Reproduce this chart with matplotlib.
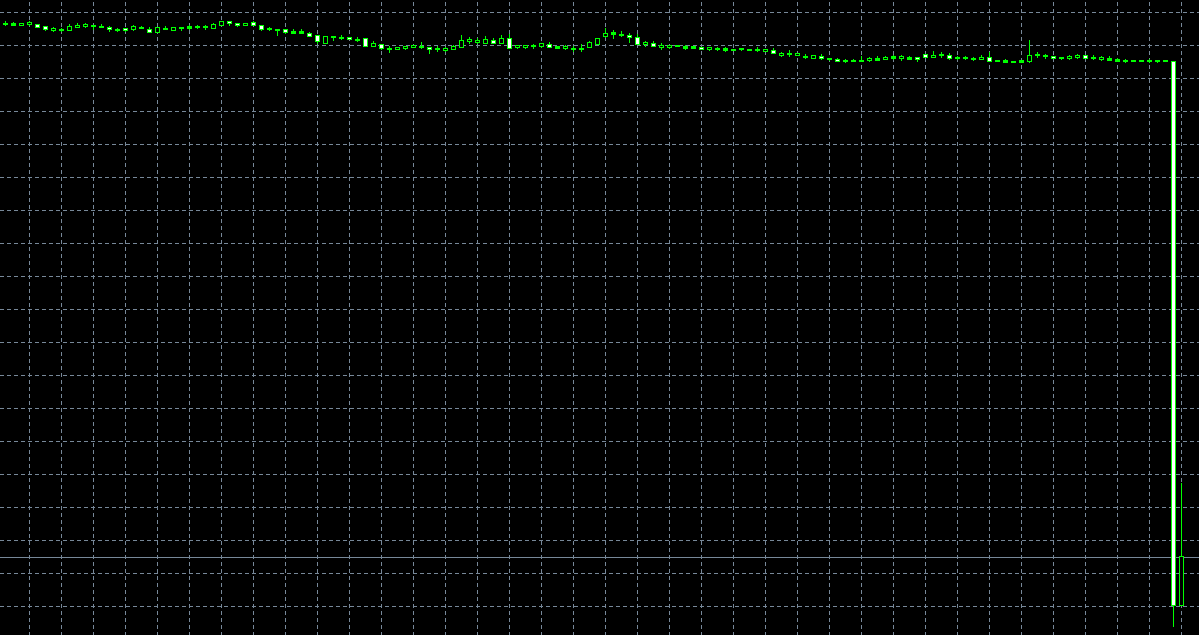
"""MT4-style candlestick chart, green on black, no price scale shown."""

import matplotlib

matplotlib.use("Agg")
import matplotlib.pyplot as plt
import numpy as np

# OHLC in chart points (the screenshot has no price labels, so units are arbitrary)
opens = [
    1834, 1828, 1828, 1830, 1833, 1827, 1812, 1816, 1813, 1823,
    1824, 1825, 1825, 1824, 1816, 1821, 1817, 1822, 1818, 1807,
    1817, 1813, 1818, 1819, 1824, 1823, 1819, 1828, 1841, 1836,
    1828, 1837, 1830, 1818, 1818, 1818, 1804, 1804, 1806, 1798,
    1775, 1797, 1792, 1794, 1786, 1790, 1765, 1773, 1759, 1755,
    1759, 1761, 1764, 1763, 1757, 1753, 1757, 1762, 1780, 1777,
    1774, 1785, 1774, 1791, 1761, 1762, 1766, 1765, 1773, 1759,
    1758, 1759, 1759, 1762, 1770, 1795, 1801, 1799, 1800, 1794,
    1771, 1776, 1762, 1761, 1764, 1759, 1759, 1764, 1755, 1755,
    1754, 1752, 1757, 1753, 1755, 1749, 1754, 1738, 1743, 1739,
    1734, 1730, 1737, 1727, 1727, 1719, 1719, 1719, 1722, 1723,
    1726, 1729, 1728, 1727, 1732, 1743, 1732, 1739, 1740, 1731,
    1731, 1727, 1725, 1733, 1720, 1717, 1717, 1717, 1719, 1740,
    1736, 1737, 1732, 1728, 1731, 1738, 1731, 1726, 1723, 1720,
    1721, 1720, 1720, 1721, 1722, 1722, 1722, 89,
]
highs = [
    1841, 1839, 1836, 1840, 1833, 1827, 1822, 1821, 1833, 1834,
    1834, 1828, 1831, 1827, 1821, 1821, 1828, 1827, 1823, 1824,
    1827, 1824, 1823, 1828, 1828, 1828, 1834, 1842, 1841, 1836,
    1836, 1842, 1830, 1824, 1818, 1818, 1818, 1816, 1809, 1798,
    1797, 1797, 1798, 1794, 1792, 1790, 1781, 1773, 1767, 1763,
    1767, 1768, 1779, 1763, 1765, 1764, 1768, 1800, 1792, 1789,
    1797, 1789, 1800, 1801, 1770, 1769, 1772, 1776, 1779, 1765,
    1768, 1767, 1773, 1781, 1791, 1820, 1814, 1811, 1806, 1801,
    1782, 1781, 1774, 1769, 1770, 1768, 1765, 1764, 1762, 1764,
    1764, 1758, 1761, 1758, 1764, 1756, 1760, 1749, 1755, 1746,
    1741, 1738, 1743, 1730, 1730, 1728, 1728, 1735, 1733, 1737,
    1737, 1738, 1739, 1736, 1732, 1743, 1750, 1747, 1744, 1737,
    1737, 1732, 1740, 1749, 1725, 1727, 1722, 1723, 1785, 1749,
    1743, 1737, 1732, 1738, 1741, 1738, 1738, 1735, 1737, 1730,
    1726, 1725, 1722, 1727, 1722, 1722, 1722, 456,
]
lows = [
    1827, 1828, 1828, 1827, 1822, 1813, 1809, 1809, 1813, 1823,
    1821, 1816, 1822, 1810, 1809, 1811, 1814, 1819, 1808, 1807,
    1817, 1813, 1814, 1815, 1819, 1816, 1819, 1828, 1828, 1825,
    1828, 1828, 1813, 1813, 1798, 1804, 1804, 1804, 1795, 1775,
    1775, 1783, 1786, 1786, 1780, 1765, 1765, 1756, 1747, 1755,
    1756, 1761, 1759, 1744, 1749, 1749, 1755, 1762, 1775, 1774,
    1774, 1774, 1774, 1759, 1758, 1758, 1759, 1762, 1762, 1759,
    1756, 1750, 1750, 1762, 1770, 1791, 1789, 1796, 1776, 1771,
    1766, 1766, 1757, 1758, 1764, 1756, 1759, 1756, 1752, 1752,
    1750, 1752, 1753, 1753, 1750, 1749, 1743, 1735, 1735, 1739,
    1728, 1730, 1726, 1724, 1720, 1716, 1719, 1719, 1719, 1723,
    1726, 1727, 1723, 1727, 1719, 1732, 1732, 1732, 1726, 1725,
    1725, 1723, 1725, 1720, 1720, 1717, 1717, 1717, 1716, 1732,
    1729, 1729, 1726, 1726, 1728, 1729, 1725, 1724, 1723, 1720,
    1716, 1720, 1720, 1716, 1717, 1720, 25, 89,
]
closes = [
    1834, 1834, 1836, 1837, 1822, 1816, 1819, 1816, 1827, 1830,
    1831, 1828, 1825, 1817, 1816, 1814, 1825, 1822, 1808, 1824,
    1818, 1824, 1823, 1825, 1824, 1823, 1831, 1842, 1834, 1828,
    1836, 1828, 1816, 1818, 1813, 1807, 1810, 1810, 1795, 1780,
    1797, 1792, 1792, 1786, 1786, 1765, 1774, 1759, 1759, 1763,
    1767, 1768, 1764, 1756, 1757, 1761, 1765, 1785, 1788, 1785,
    1788, 1774, 1791, 1759, 1768, 1769, 1766, 1776, 1762, 1765,
    1765, 1759, 1759, 1777, 1791, 1806, 1807, 1799, 1793, 1771,
    1778, 1766, 1770, 1769, 1770, 1765, 1765, 1756, 1762, 1761,
    1760, 1758, 1757, 1758, 1755, 1756, 1743, 1745, 1743, 1746,
    1734, 1738, 1729, 1727, 1720, 1725, 1725, 1725, 1729, 1729,
    1733, 1735, 1735, 1733, 1725, 1732, 1740, 1739, 1729, 1731,
    1731, 1727, 1734, 1720, 1722, 1723, 1722, 1723, 1740, 1740,
    1736, 1729, 1729, 1735, 1738, 1729, 1731, 1733, 1729, 1726,
    1721, 1722, 1722, 1721, 1720, 1720, 89, 235,
]

BG = "black"
LIME = "#00ff00"
GRID = "#778899"
PX = 0.72  # one pixel in points at dpi=100
EDGE = 3.0  # one pixel in chart points (outline thickness)
BAR_PX = 0.125  # one pixel in bar-index units (8 px per bar)


def main() -> None:
    o = np.asarray(opens, dtype=float)
    h = np.asarray(highs, dtype=float)
    lo_ = np.asarray(lows, dtype=float)
    c = np.asarray(closes, dtype=float)
    idx = np.arange(len(o))

    fig = plt.figure(figsize=(11.99, 6.35), dpi=100, facecolor=BG)
    ax = fig.add_axes([0, 0, 1, 1], facecolor=BG)
    ax.set_xlim(-0.6875, 149.1875)
    ax.set_ylim(0, 1905)

    # dashed grid, every 4 bars / every 99 points (half-pixel nudge so it lands on the bar column)
    ax.set_xticks(np.arange(3, len(o), 4) - BAR_PX / 2)
    ax.set_yticks(np.arange(1869, 0, -99))
    ax.grid(True, color=GRID, linewidth=PX, linestyle=(0, (4, 3)), antialiased=False)
    ax.set_axisbelow(True)
    ax.tick_params(length=0, labelbottom=False, labelleft=False)
    for sp in ax.spines.values():
        sp.set_visible(False)

    # bid line at last close
    ax.axhline(c[-1], color=GRID, linewidth=PX, zorder=1.5, antialiased=False)

    crisp = dict(linewidth=0, antialiased=False, snap=False)

    # wicks as 1-px wide bars so they line up with the bodies
    ax.bar(idx, h - lo_, bottom=lo_, width=BAR_PX, color=LIME, zorder=2, **crisp)

    # bodies: lime outer block, then black (bull) / white (bear) interior
    body_lo = np.minimum(o, c)
    body_hi = np.maximum(o, c)
    mid = (body_lo + body_hi) / 2
    thin = (body_hi - body_lo) < EDGE
    body_lo = np.where(thin, mid - EDGE / 2, body_lo)
    body_hi = np.where(thin, mid + EDGE / 2, body_hi)
    ax.bar(idx, body_hi - body_lo, bottom=body_lo, width=5 * BAR_PX, color=LIME,
           zorder=3, **crisp)

    room = (body_hi - body_lo) > 2 * EDGE
    fill = np.where(c >= o, BG, "white")
    ax.bar(idx[room], (body_hi - body_lo)[room] - 2 * EDGE,
           bottom=body_lo[room] + EDGE, width=3 * BAR_PX, color=fill[room],
           zorder=4, **crisp)

    fig.savefig("out.png", dpi=100, facecolor=BG)
    plt.close(fig)


if __name__ == "__main__":
    main()
